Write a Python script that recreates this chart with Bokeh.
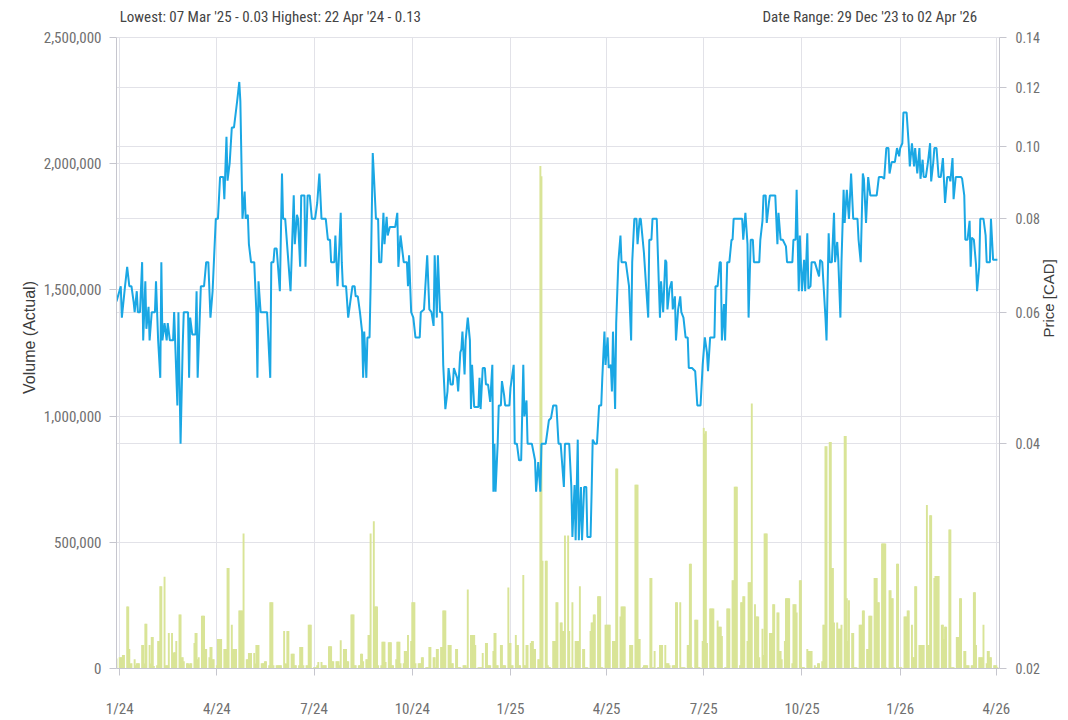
import numpy as np
import pandas as pd
from math import pi
from bokeh.plotting import figure
from bokeh.models import (Range1d, LogScale, LogAxis, FixedTicker, NumeralTickFormatter,
                          PrintfTickFormatter, Grid, Label, ColumnDataSource)
from bokeh.embed import file_html
from bokeh.resources import INLINE

# ---------------- data ----------------
header_left = "Lowest: 07 Mar '25 - 0.03 Highest: 22 Apr '24 - 0.13"
header_right = "Date Range: 29 Dec '23 to 02 Apr '26"
left_axis_title = "Volume (Actual)"
right_axis_title = "Price [CAD]"

x_tick_dates = ["2024-01-01", "2024-04-01", "2024-07-01", "2024-10-01", "2025-01-01",
                "2025-04-01", "2025-07-01", "2025-10-01", "2026-01-01", "2026-04-01"]
x_tick_labels = ["1/24", "4/24", "7/24", "10/24", "1/25", "4/25", "7/25", "10/25", "1/26", "4/26"]
volume_ticks = [0, 500000, 1000000, 1500000, 2000000, 2500000]
price_ticks = [0.02, 0.04, 0.06, 0.08, 0.10, 0.12, 0.14]

# closing price (CAD)
price_points = [
    ("2023-12-29", 0.062), ("2024-01-02", 0.065), ("2024-01-03", 0.059), ("2024-01-06", 0.065),
    ("2024-01-08", 0.069), ("2024-01-10", 0.065), ("2024-01-12", 0.065), ("2024-01-14", 0.062),
    ("2024-01-15", 0.060), ("2024-01-17", 0.064), ("2024-01-18", 0.060), ("2024-01-20", 0.060),
    ("2024-01-22", 0.070), ("2024-01-23", 0.055), ("2024-01-25", 0.066), ("2024-01-26", 0.057),
    ("2024-01-28", 0.061), ("2024-01-29", 0.055), ("2024-01-31", 0.060), ("2024-02-03", 0.060),
    ("2024-02-04", 0.066), ("2024-02-06", 0.055), ("2024-02-08", 0.049), ("2024-02-09", 0.070),
    ("2024-02-10", 0.055), ("2024-02-12", 0.058), ("2024-02-14", 0.055), ("2024-02-15", 0.058),
    ("2024-02-17", 0.055), ("2024-02-20", 0.055), ("2024-02-21", 0.060), ("2024-02-24", 0.045),
    ("2024-02-25", 0.060), ("2024-02-27", 0.040), ("2024-02-29", 0.054), ("2024-03-01", 0.060),
    ("2024-03-05", 0.060), ("2024-03-06", 0.049), ("2024-03-07", 0.059), ("2024-03-09", 0.056),
    ("2024-03-12", 0.056), ("2024-03-13", 0.064), ("2024-03-14", 0.049), ("2024-03-17", 0.065),
    ("2024-03-20", 0.065), ("2024-03-22", 0.070), ("2024-03-24", 0.070), ("2024-03-26", 0.059),
    ("2024-03-28", 0.064), ("2024-03-31", 0.080), ("2024-04-02", 0.080), ("2024-04-04", 0.091),
    ("2024-04-07", 0.091), ("2024-04-08", 0.085), ("2024-04-10", 0.103), ("2024-04-11", 0.090),
    ("2024-04-13", 0.095), ("2024-04-15", 0.106), ("2024-04-17", 0.106), ("2024-04-20", 0.115),
    ("2024-04-22", 0.122), ("2024-04-23", 0.115), ("2024-04-25", 0.080), ("2024-04-27", 0.087),
    ("2024-04-28", 0.080), ("2024-04-30", 0.081), ("2024-05-01", 0.074), ("2024-05-03", 0.070),
    ("2024-05-06", 0.070), ("2024-05-08", 0.060), ("2024-05-09", 0.049), ("2024-05-10", 0.066),
    ("2024-05-12", 0.060), ("2024-05-18", 0.060), ("2024-05-21", 0.049), ("2024-05-22", 0.070),
    ("2024-05-24", 0.070), ("2024-05-25", 0.073), ("2024-05-27", 0.073), ("2024-05-30", 0.064),
    ("2024-06-01", 0.092), ("2024-06-02", 0.080), ("2024-06-04", 0.080), ("2024-06-07", 0.070),
    ("2024-06-09", 0.064), ("2024-06-12", 0.086), ("2024-06-13", 0.074), ("2024-06-15", 0.081),
    ("2024-06-16", 0.080), ("2024-06-18", 0.069), ("2024-06-19", 0.086), ("2024-06-22", 0.086),
    ("2024-06-23", 0.069), ("2024-06-25", 0.086), ("2024-06-27", 0.086), ("2024-06-29", 0.080),
    ("2024-07-02", 0.080), ("2024-07-04", 0.084), ("2024-07-06", 0.092), ("2024-07-08", 0.080),
    ("2024-07-12", 0.080), ("2024-07-14", 0.075), ("2024-07-16", 0.075), ("2024-07-17", 0.070),
    ("2024-07-20", 0.070), ("2024-07-21", 0.076), ("2024-07-23", 0.065), ("2024-07-24", 0.0695),
    ("2024-07-26", 0.0815), ("2024-07-27", 0.070), ("2024-07-28", 0.065), ("2024-07-31", 0.065),
    ("2024-08-02", 0.059), ("2024-08-04", 0.062), ("2024-08-06", 0.065), ("2024-08-08", 0.065),
    ("2024-08-09", 0.063), ("2024-08-11", 0.063), ("2024-08-13", 0.060), ("2024-08-15", 0.0565),
    ("2024-08-16", 0.049), ("2024-08-17", 0.0565), ("2024-08-19", 0.049), ("2024-08-20", 0.0555),
    ("2024-08-22", 0.0555), ("2024-08-23", 0.065), ("2024-08-25", 0.098), ("2024-08-26", 0.092),
    ("2024-08-28", 0.080), ("2024-08-30", 0.080), ("2024-08-31", 0.070), ("2024-09-02", 0.070),
    ("2024-09-04", 0.0815), ("2024-09-05", 0.074), ("2024-09-07", 0.0805), ("2024-09-08", 0.076),
    ("2024-09-10", 0.078), ("2024-09-15", 0.078), ("2024-09-17", 0.0815), ("2024-09-18", 0.069),
    ("2024-09-20", 0.076), ("2024-09-22", 0.072), ("2024-09-23", 0.070), ("2024-09-26", 0.070),
    ("2024-09-27", 0.065), ("2024-09-28", 0.0715), ("2024-09-30", 0.060), ("2024-10-02", 0.059),
    ("2024-10-04", 0.0555), ("2024-10-08", 0.0555), ("2024-10-09", 0.060), ("2024-10-12", 0.0605),
    ("2024-10-13", 0.064), ("2024-10-15", 0.0715), ("2024-10-17", 0.0605), ("2024-10-19", 0.060),
    ("2024-10-21", 0.0575), ("2024-10-22", 0.0715), ("2024-10-24", 0.059), ("2024-10-25", 0.0715),
    ("2024-10-27", 0.060), ("2024-10-29", 0.060), ("2024-10-30", 0.051), ("2024-11-01", 0.0445),
    ("2024-11-03", 0.047), ("2024-11-04", 0.0505), ("2024-11-06", 0.048), ("2024-11-08", 0.048),
    ("2024-11-09", 0.0505), ("2024-11-12", 0.049), ("2024-11-13", 0.047), ("2024-11-15", 0.053),
    ("2024-11-16", 0.0535), ("2024-11-17", 0.0565), ("2024-11-19", 0.0495), ("2024-11-20", 0.055),
    ("2024-11-22", 0.059), ("2024-11-24", 0.055), ("2024-11-25", 0.0445), ("2024-11-26", 0.051),
    ("2024-11-28", 0.0448), ("2024-12-02", 0.0448), ("2024-12-03", 0.049), ("2024-12-04", 0.0445),
    ("2024-12-06", 0.0505), ("2024-12-08", 0.0505), ("2024-12-09", 0.048), ("2024-12-11", 0.048),
    ("2024-12-13", 0.0455), ("2024-12-15", 0.051), ("2024-12-16", 0.0345), ("2024-12-17", 0.040),
    ("2024-12-18", 0.0345), ("2024-12-20", 0.040), ("2024-12-21", 0.045), ("2024-12-23", 0.045),
    ("2024-12-24", 0.0485), ("2024-12-26", 0.0465), ("2024-12-27", 0.045), ("2024-12-31", 0.045),
    ("2025-01-01", 0.0475), ("2025-01-04", 0.051), ("2025-01-05", 0.040), ("2025-01-07", 0.040),
    ("2025-01-09", 0.038), ("2025-01-11", 0.038), ("2025-01-13", 0.051), ("2025-01-14", 0.0435),
    ("2025-01-16", 0.0457), ("2025-01-17", 0.040), ("2025-01-21", 0.040), ("2025-01-24", 0.038),
    ("2025-01-25", 0.0345), ("2025-01-27", 0.0378), ("2025-01-29", 0.0345), ("2025-01-30", 0.040),
    ("2025-02-03", 0.040), ("2025-02-06", 0.043), ("2025-02-08", 0.0433), ("2025-02-10", 0.045),
    ("2025-02-13", 0.045), ("2025-02-15", 0.040), ("2025-02-17", 0.040), ("2025-02-20", 0.035),
    ("2025-02-21", 0.040), ("2025-02-25", 0.040), ("2025-02-27", 0.035), ("2025-02-28", 0.030),
    ("2025-03-02", 0.0352), ("2025-03-03", 0.0297), ("2025-03-05", 0.0405), ("2025-03-06", 0.0297),
    ("2025-03-08", 0.035), ("2025-03-09", 0.0297), ("2025-03-11", 0.035), ("2025-03-13", 0.035),
    ("2025-03-14", 0.030), ("2025-03-17", 0.030), ("2025-03-18", 0.0345), ("2025-03-19", 0.0405),
    ("2025-03-21", 0.040), ("2025-03-23", 0.040), ("2025-03-25", 0.045), ("2025-03-27", 0.045),
    ("2025-03-28", 0.049), ("2025-03-30", 0.0565), ("2025-03-31", 0.051), ("2025-04-02", 0.0555),
    ("2025-04-03", 0.0505), ("2025-04-05", 0.051), ("2025-04-06", 0.047), ("2025-04-07", 0.0565),
    ("2025-04-09", 0.0445), ("2025-04-10", 0.058), ("2025-04-12", 0.070), ("2025-04-14", 0.076),
    ("2025-04-15", 0.070), ("2025-04-19", 0.070), ("2025-04-22", 0.065), ("2025-04-24", 0.055),
    ("2025-04-25", 0.070), ("2025-04-27", 0.080), ("2025-04-29", 0.080), ("2025-04-30", 0.074),
    ("2025-05-02", 0.080), ("2025-05-03", 0.080), ("2025-05-06", 0.072), ("2025-05-08", 0.065),
    ("2025-05-10", 0.059), ("2025-05-11", 0.075), ("2025-05-13", 0.075), ("2025-05-14", 0.080),
    ("2025-05-18", 0.080), ("2025-05-20", 0.065), ("2025-05-21", 0.059), ("2025-05-22", 0.066),
    ("2025-05-24", 0.060), ("2025-05-26", 0.0705), ("2025-05-27", 0.070), ("2025-05-28", 0.0605),
    ("2025-05-30", 0.0645), ("2025-06-01", 0.066), ("2025-06-02", 0.0605), ("2025-06-04", 0.063),
    ("2025-06-05", 0.055), ("2025-06-07", 0.0605), ("2025-06-09", 0.063), ("2025-06-10", 0.060),
    ("2025-06-12", 0.059), ("2025-06-14", 0.0555), ("2025-06-16", 0.0555), ("2025-06-17", 0.0505),
    ("2025-06-20", 0.0505), ("2025-06-23", 0.050), ("2025-06-25", 0.045), ("2025-06-28", 0.045),
    ("2025-06-30", 0.051), ("2025-07-02", 0.0555), ("2025-07-04", 0.053), ("2025-07-05", 0.050),
    ("2025-07-07", 0.0555), ("2025-07-11", 0.0555), ("2025-07-12", 0.065), ("2025-07-14", 0.065),
    ("2025-07-16", 0.070), ("2025-07-17", 0.070), ("2025-07-18", 0.055), ("2025-07-20", 0.0615),
    ("2025-07-21", 0.055), ("2025-07-23", 0.070), ("2025-07-25", 0.070), ("2025-07-27", 0.075),
    ("2025-07-28", 0.075), ("2025-07-29", 0.080), ("2025-08-06", 0.080), ("2025-08-07", 0.075),
    ("2025-08-09", 0.0815), ("2025-08-11", 0.074), ("2025-08-12", 0.059), ("2025-08-14", 0.075),
    ("2025-08-16", 0.075), ("2025-08-17", 0.070), ("2025-08-22", 0.070), ("2025-08-23", 0.075),
    ("2025-08-25", 0.0795), ("2025-08-26", 0.086), ("2025-08-28", 0.086), ("2025-08-29", 0.079),
    ("2025-08-31", 0.084), ("2025-09-01", 0.086), ("2025-09-06", 0.086), ("2025-09-08", 0.074),
    ("2025-09-09", 0.0815), ("2025-09-11", 0.075), ("2025-09-13", 0.075), ("2025-09-16", 0.0735),
    ("2025-09-17", 0.070), ("2025-09-22", 0.070), ("2025-09-23", 0.075), ("2025-09-25", 0.075),
    ("2025-09-26", 0.0875), ("2025-09-28", 0.064), ("2025-09-29", 0.076), ("2025-10-01", 0.064),
    ("2025-10-03", 0.0705), ("2025-10-04", 0.064), ("2025-10-06", 0.0765), ("2025-10-07", 0.0645),
    ("2025-10-09", 0.065), ("2025-10-10", 0.070), ("2025-10-13", 0.070), ("2025-10-17", 0.067),
    ("2025-10-18", 0.0705), ("2025-10-20", 0.070), ("2025-10-21", 0.066), ("2025-10-23", 0.059),
    ("2025-10-24", 0.055), ("2025-10-26", 0.0765), ("2025-10-27", 0.070), ("2025-10-29", 0.070),
    ("2025-10-31", 0.0815), ("2025-11-01", 0.070), ("2025-11-03", 0.0745), ("2025-11-04", 0.0705),
    ("2025-11-06", 0.059), ("2025-11-07", 0.070), ("2025-11-09", 0.0875), ("2025-11-10", 0.079),
    ("2025-11-12", 0.0875), ("2025-11-14", 0.080), ("2025-11-16", 0.092), ("2025-11-18", 0.080),
    ("2025-11-22", 0.080), ("2025-11-23", 0.075), ("2025-11-25", 0.070), ("2025-11-27", 0.092),
    ("2025-11-28", 0.0905), ("2025-11-30", 0.079), ("2025-12-02", 0.091), ("2025-12-04", 0.086),
    ("2025-12-10", 0.086), ("2025-12-12", 0.091), ("2025-12-15", 0.091), ("2025-12-17", 0.0905),
    ("2025-12-19", 0.0995), ("2025-12-21", 0.0995), ("2025-12-22", 0.092), ("2025-12-24", 0.0953),
    ("2025-12-27", 0.0953), ("2025-12-29", 0.0995), ("2025-12-31", 0.097), ("2026-01-01", 0.0995),
    ("2026-01-03", 0.101), ("2026-01-04", 0.111), ("2026-01-07", 0.111), ("2026-01-09", 0.1005),
    ("2026-01-10", 0.094), ("2026-01-12", 0.101), ("2026-01-14", 0.094), ("2026-01-15", 0.0995),
    ("2026-01-17", 0.092), ("2026-01-19", 0.0995), ("2026-01-20", 0.0905), ("2026-01-22", 0.096),
    ("2026-01-23", 0.091), ("2026-01-25", 0.091), ("2026-01-27", 0.0953), ("2026-01-29", 0.101),
    ("2026-01-30", 0.0898), ("2026-02-01", 0.0953), ("2026-02-02", 0.0995), ("2026-02-04", 0.0995),
    ("2026-02-06", 0.091), ("2026-02-08", 0.091), ("2026-02-10", 0.0965), ("2026-02-12", 0.084),
    ("2026-02-14", 0.091), ("2026-02-16", 0.091), ("2026-02-17", 0.0898), ("2026-02-19", 0.0965),
    ("2026-02-20", 0.085), ("2026-02-22", 0.091), ("2026-02-27", 0.091), ("2026-02-28", 0.0905),
    ("2026-03-02", 0.086), ("2026-03-03", 0.075), ("2026-03-05", 0.075), ("2026-03-07", 0.0795),
    ("2026-03-08", 0.069), ("2026-03-09", 0.0755), ("2026-03-11", 0.075), ("2026-03-13", 0.0695),
    ("2026-03-14", 0.064), ("2026-03-16", 0.069), ("2026-03-17", 0.080), ("2026-03-20", 0.080),
    ("2026-03-22", 0.076), ("2026-03-23", 0.070), ("2026-03-26", 0.070), ("2026-03-27", 0.080),
    ("2026-03-29", 0.0705), ("2026-04-02", 0.0705),
]

# daily volume (thousands of shares), one value per trading day from 29 Dec 2023 to 02 Apr 2026
volume_first_day = "2023-12-29"
volume_last_day = "2026-04-02"
volume_k = [
    40,
    45, 45, 45, 53, 53,   246, 246, 77, 20, 21,   37, 13, 21, 21, 21,   93, 93, 20, 177, 177,
    93, 20, 125, 125, 10,   13, 109, 109, 326, 326,   363, 13, 13, 13, 141,   141, 61, 64, 64, 109,
    214, 214, 45, 45, 29,   21, 21, 15, 21, 21,   101, 141, 141, 37, 45,   209, 209, 209, 77, 77,
    45, 85, 85, 37, 37,   13, 117, 117, 117, 117,   77, 77, 77, 398, 398,   173, 77, 77, 77, 77,
    230, 230, 230, 230, 535,   37, 37, 61, 61, 61,   61, 20, 93, 93, 93,   21, 21, 21, 29, 29,
    13, 262, 262, 262, 13,   13, 13, 13, 13, 13,   149, 20, 20, 149, 149,   58, 58, 58, 13, 13,
    13, 85, 85, 85, 13,   13, 13, 173, 173, 173,   5, 5, 5, 13, 26,   26, 13, 13, 13, 13,
    88, 88, 88, 29, 29,   29, 29, 29, 13, 112,   77, 77, 77, 29, 29,   214, 214, 214, 13, 13,
    13, 13, 58, 58, 29,   37, 37, 133, 133, 535,   583, 246, 246, 246, 13,   13, 106, 106, 106, 26,
    104, 104, 104, 13, 13,   37, 106, 106, 106, 21,   21, 69, 69, 69, 133,   109, 262, 262, 262, 21,
    21, 21, 21, 45, 45,   5, 5, 5, 85, 85,   45, 45, 5, 77, 77,   85, 85, 230, 230, 230,
    93, 93, 93, 21, 21,   77, 77, 5, 5, 5,   13, 13, 13, 5, 313,   133, 133, 133, 133, 93,
    5, 5, 5, 5, 61,   101, 101, 13, 13, 13,   69, 141, 141, 13, 13,   93, 93, 13, 13, 13,
    321, 101, 101, 13, 13,   133, 93, 93, 13, 13,   370, 13, 13, 93, 93,   101, 109, 109, 77, 77,
    37, 37, 1990, 1950, 427,   427, 427, 13, 5, 5,   109, 109, 109, 262, 262,   182, 182, 149, 149, 527,
    527, 149, 5, 5, 262,   109, 109, 109, 109, 326,   77, 77, 5, 5, 5,   149, 182, 182, 214, 214,
    286, 286, 286, 5, 5,   173, 173, 173, 173, 173,   109, 109, 109, 792, 792,   206, 246, 246, 246, 246,
    5, 5, 93, 93, 93,   728, 728, 728, 117, 117,   5, 13, 13, 13, 13,   358, 358, 5, 5, 69,
    5, 5, 93, 93, 93,   93, 21, 21, 21, 13,   13, 13, 13, 262, 262,   262, 5, 5, 5, 5,
    93, 93, 415, 415, 5,   193, 193, 193, 5, 5,   109, 953, 930, 940, 101,   238, 238, 238, 238, 5,
    190, 165, 165, 165, 129,   5, 5, 238, 238, 238,   350, 350, 720, 720, 720,   13, 262, 262, 286, 286,
    109, 342, 342, 342, 1050,   254, 206, 206, 206, 45,   157, 53, 535, 535, 535,   141, 141, 141, 254, 254,
    222, 222, 69, 69, 37,   109, 278, 278, 278, 278,   21, 254, 254, 254, 222,   350, 350, 5, 5, 5,
    77, 69, 69, 69, 69,   13, 5, 5, 21, 21,   29, 173, 173, 880, 880,   897, 897, 398, 398, 182,
    182, 157, 157, 157, 173,   921, 921, 278, 109, 270,   141, 141, 5, 5, 5,   173, 173, 173, 230, 230,
    77, 77, 209, 209, 209,   358, 358, 358, 262, 262,   495, 495, 495, 495, 5,   310, 310, 278, 278, 5,
    415, 415, 5, 5, 5,   206, 206, 206, 230, 230,   173, 45, 45, 326, 326,   93, 93, 93, 93, 93,
    648, 93, 93, 607, 607,   358, 366, 366, 366, 366,   173, 173, 117, 165, 165,   551, 551, 5, 5, 5,
    125, 125, 125, 278, 278,   69, 69, 13, 13, 13,   13, 13, 302, 302, 93,   45, 45, 45, 45, 173,
    21, 69, 69, 45, 45,   13, 13, 13, 5,
]

# ---------------- styling / layout ----------------
LINE_COLOR = "#1aa7e4"
BAR_COLOR = "#d9e497"
GRID_COLOR = "#e2e2e8"
AXIS_COLOR = "#c6c6ce"
TICK_TEXT = "#707070"
TITLE_TEXT = "#3c3c3c"
NARROW = "Liberation Sans Narrow, Roboto Condensed, DejaVu Sans Condensed, Arial Narrow, Roboto"
REGULAR = "Liberation Sans, Arial, Roboto"

W, H = 1068, 720
FRAME_LEFT, FRAME_RIGHT = 116, 1002
FRAME_TOP, AXIS_TOP, FRAME_BOTTOM = 6, 37, 672
# the plotting frame is extended above the top tick so the header lines sit inside it
ext = (AXIS_TOP - FRAME_TOP) / (FRAME_BOTTOM - AXIS_TOP)
head = 20 / (FRAME_BOTTOM - AXIS_TOP)


def ms(d):
    return pd.Timestamp(d).value / 1e6


x_start, x_end = "2023-12-29", "2026-04-04"
v_lo, v_hi = volume_ticks[0], volume_ticks[-1]
p_lo, p_hi = price_ticks[0], price_ticks[-1]

p = figure(width=W, height=H, x_axis_type="datetime",
           x_range=Range1d(ms(x_start), ms(x_end)),
           y_range=Range1d(v_lo, v_hi * (1 + ext)),
           output_backend="svg", toolbar_location=None,
           min_border_left=FRAME_LEFT, min_border_right=W - FRAME_RIGHT,
           min_border_top=FRAME_TOP, min_border_bottom=H - FRAME_BOTTOM)
p.outline_line_color = None
p.background_fill_color = "white"
p.border_fill_color = "white"
p.extra_y_ranges = {"price": Range1d(p_lo, p_lo * (p_hi / p_lo) ** (1 + ext))}
p.extra_y_scales = {"price": LogScale()}

# volume bars
vol_dates = pd.bdate_range(volume_first_day, volume_last_day)
n = min(len(vol_dates), len(volume_k))
vol_src = ColumnDataSource(dict(x=vol_dates[:n], top=np.array(volume_k[:n], dtype=float) * 1000))
p.vbar(x="x", top="top", width=1.8 * 86400000, source=vol_src,
       fill_color=BAR_COLOR, line_color=None)

# price line
price_src = ColumnDataSource(dict(x=pd.to_datetime([d for d, _ in price_points]),
                                  y=[v for _, v in price_points]))
p.line(x="x", y="y", source=price_src, y_range_name="price",
       line_color=LINE_COLOR, line_width=2)

# axes
tick_ms = [ms(d) for d in x_tick_dates]
p.xaxis.ticker = FixedTicker(ticks=tick_ms)
p.xaxis.major_label_overrides = {t: lab for t, lab in zip(tick_ms, x_tick_labels)}
p.yaxis.ticker = FixedTicker(ticks=volume_ticks)
p.yaxis.formatter = NumeralTickFormatter(format="0,0")
p.yaxis.bounds = (v_lo, v_hi)
p.yaxis.axis_label = left_axis_title

ra = LogAxis(y_range_name="price", ticker=FixedTicker(ticks=price_ticks),
             formatter=PrintfTickFormatter(format="%.2f"), bounds=(p_lo, p_hi))
ra.axis_label = right_axis_title
if "axis_label_orientation" in ra.properties():
    ra.axis_label_orientation = pi / 2
p.add_layout(ra, "right")

for ax in [p.xaxis[0], p.yaxis[0], ra]:
    ax.axis_line_color = AXIS_COLOR
    ax.major_tick_line_color = AXIS_COLOR
    ax.minor_tick_line_color = None
    ax.major_tick_out = 7
    ax.major_tick_in = 0
    ax.major_label_text_font = NARROW
    ax.major_label_text_font_size = "15px"
    ax.major_label_text_color = TICK_TEXT
ra.major_label_text_font_size = "14px"

for ax in [p.yaxis[0], ra]:
    ax.axis_label_text_font = REGULAR
    ax.axis_label_text_font_size = "16px"
    ax.axis_label_text_font_style = "normal"
    ax.axis_label_text_color = TITLE_TEXT
ra.axis_label_text_font_size = "15px"

p.xaxis.major_label_standoff = 24
p.yaxis.major_label_standoff = 8
p.yaxis.axis_label_standoff = 3
ra.major_label_standoff = 9
ra.axis_label_standoff = 6

# grids
p.xgrid.grid_line_color = GRID_COLOR
p.xgrid.cross_bounds = (v_lo, v_hi)
p.ygrid.grid_line_color = GRID_COLOR
p.add_layout(Grid(dimension=1, ticker=ra.ticker, y_range_name="price",
                  grid_line_color=GRID_COLOR))

# header texts (inside the extended top strip of the frame)
top_y = v_hi * (1 + head)
p.add_layout(Label(x=ms("2024-01-01"), y=top_y, text=header_left, text_font=NARROW,
                   text_font_size="15px", text_color="#444444", text_baseline="middle",
                   text_align="left"))
p.add_layout(Label(x=ms("2026-03-14"), y=top_y, text=header_right, text_font=NARROW,
                   text_font_size="15px", text_color="#444444", text_baseline="middle",
                   text_align="right"))

open("out.html", "w").write(file_html(p, INLINE))
